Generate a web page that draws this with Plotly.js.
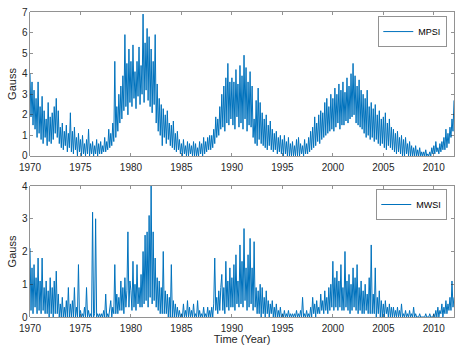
<!DOCTYPE html>
<html>
<head>
<meta charset="utf-8">
<script src="https://cdn.plot.ly/plotly-3.0.1.min.js"></script>
<style>
  html, body { margin: 0; padding: 0; background: #fff; }
  #chart { width: 463px; height: 348px; }
</style>
</head>
<body>
<div id="chart"></div>
<script>
// sampling: one value every 0.1 year starting 1970.0
const startYear = 1970;
const stepYear = 0.1;

// MPSI (Gauss), one row per year
const mpsi = [
  4.0,1.9,3.6,1.5,3.2,1.3,2.8,0.9,3.6,1.1,
  2.4,0.8,2.9,0.6,2.2,0.9,1.8,0.5,2.6,0.7,
  1.9,0.6,2.1,0.8,2.4,1.1,2.8,0.9,2.2,0.6,
  1.4,0.4,1.6,0.3,1.2,0.5,1.5,0.2,1.1,0.4,
  2.1,0.2,1.2,0.1,1.4,0.3,0.9,0.0,1.1,0.2,
  0.8,0.0,1.0,0.1,0.6,0.0,0.8,0.1,1.3,0.0,
  0.6,0.1,0.7,0.0,0.5,0.1,0.8,0.0,0.6,0.1,
  0.7,0.1,0.5,0.2,0.9,0.2,0.7,0.3,1.3,0.4,
  1.1,0.5,1.6,0.7,4.6,0.9,2.4,1.2,3.0,1.6,
  3.4,1.8,3.9,2.2,5.9,2.4,4.5,2.0,5.2,2.6,
  4.6,2.4,5.4,2.8,4.1,2.3,4.6,2.9,5.3,2.5,
  4.4,3.0,6.9,2.6,5.5,3.2,6.2,2.7,5.8,2.4,
  5.2,2.1,4.6,2.5,5.9,1.6,3.5,1.2,2.8,1.0,
  2.5,0.5,2.3,0.9,2.0,0.6,2.2,0.8,1.6,0.5,
  1.5,0.4,1.7,0.3,1.1,0.2,1.2,0.3,0.8,0.1,
  0.6,0.0,0.8,0.1,0.5,0.0,0.7,0.0,0.6,0.1,
  0.5,0.0,0.7,0.0,0.6,0.0,0.4,0.0,0.7,0.1,
  0.6,0.0,0.9,0.1,0.7,0.2,0.9,0.3,1.0,0.3,
  1.0,0.4,1.3,0.6,1.9,0.9,1.8,1.0,2.4,1.3,
  3.0,1.4,3.4,1.2,3.8,1.6,4.5,1.5,3.6,1.8,
  3.8,1.5,3.6,1.3,4.2,1.9,3.5,1.4,4.4,1.6,
  3.9,1.3,4.9,1.8,4.3,1.2,3.6,1.5,4.1,1.4,
  3.4,0.9,1.8,0.6,2.7,0.5,3.3,0.8,2.6,0.6,
  2.1,0.5,1.8,0.4,2.0,0.3,1.5,0.5,1.7,0.3,
  1.3,0.2,1.1,0.3,1.2,0.1,0.9,0.2,1.0,0.1,
  0.8,0.0,1.0,0.1,0.7,0.0,0.9,0.0,0.6,0.0,
  0.7,0.0,0.5,0.0,0.8,0.0,0.9,0.0,0.6,0.1,
  0.5,0.0,0.8,0.1,0.6,0.1,0.9,0.2,1.2,0.3,
  1.4,0.4,1.9,0.5,1.6,0.7,2.0,0.6,2.2,0.8,
  2.1,0.9,2.6,1.0,2.8,1.1,2.4,1.2,3.0,1.3,
  2.8,1.2,3.3,1.4,3.0,1.6,3.5,1.3,3.2,1.5,
  3.6,1.5,3.1,1.7,3.8,1.6,3.4,1.8,4.0,1.9,
  4.5,2.0,3.9,1.6,3.4,1.5,3.7,1.4,3.2,1.3,
  3.0,1.1,2.8,0.9,3.2,1.0,2.4,0.8,2.6,0.9,
  2.3,0.7,2.5,0.8,2.0,0.6,2.2,0.5,1.8,0.6,
  1.9,0.4,2.1,0.3,1.6,0.5,1.8,0.4,1.4,0.3,
  1.3,0.2,1.1,0.1,1.2,0.2,0.9,0.1,1.0,0.0,
  0.8,0.0,0.9,0.1,0.6,0.0,0.7,0.0,0.5,0.0,
  0.4,0.0,0.5,0.0,0.3,0.0,0.4,0.0,0.2,0.0,
  0.2,0.0,0.3,0.0,0.1,0.0,0.2,0.0,0.4,0.1,
  0.5,0.1,0.7,0.2,0.4,0.1,0.6,0.2,0.7,0.3,
  0.9,0.3,1.3,0.4,1.1,0.6,1.4,0.9,1.8,1.2,
  2.7
];

// MWSI (Gauss), one row per year
const mwsi = [
  2.1,0.2,1.5,0.1,1.6,0.3,1.2,0.1,1.8,0.2,
  1.1,0.1,1.8,0.2,0.9,0.1,1.1,0.1,0.8,0.0,
  1.2,0.1,0.9,0.0,1.1,0.1,1.4,0.1,0.7,0.0,
  0.4,0.0,0.6,0.0,0.3,0.0,0.5,0.0,0.9,0.0,
  0.4,0.0,0.5,0.0,0.9,0.0,0.3,0.0,1.6,0.0,
  0.2,0.0,0.1,0.0,0.3,0.0,0.9,0.0,0.2,0.0,
  0.1,0.0,3.2,0.0,0.1,3.0,0.0,0.1,0.0,0.1,
  0.0,0.1,0.0,0.2,0.0,0.7,0.0,0.1,0.0,0.3,
  0.5,0.0,0.3,0.1,1.6,0.1,0.7,0.1,0.6,0.2,
  1.1,0.2,0.9,0.1,1.2,0.3,0.8,2.6,0.3,1.1,
  0.8,0.2,1.7,0.3,1.0,0.2,1.6,0.4,0.9,0.3,
  1.3,0.3,2.0,0.4,2.5,0.5,2.6,0.3,3.1,0.6,
  4.0,0.4,2.6,0.5,1.8,0.3,1.2,0.2,1.1,0.1,
  0.9,0.1,2.0,0.1,0.8,0.1,0.7,0.0,0.6,0.0,
  1.6,0.0,0.5,0.0,0.4,0.0,0.3,0.0,0.2,0.0,
  0.1,0.0,0.4,0.0,0.2,0.0,0.5,0.0,0.3,0.0,
  0.2,0.0,0.4,0.0,0.1,0.0,0.5,0.0,0.2,0.0,
  0.1,0.0,0.3,0.0,0.1,0.0,0.3,0.0,0.2,0.0,
  0.3,0.0,0.4,1.8,0.2,0.6,0.1,0.8,0.2,0.9,
  1.3,0.2,0.9,0.1,1.7,0.3,1.1,0.2,1.5,0.3,
  1.2,0.3,1.6,0.2,1.9,0.4,1.1,0.3,2.2,0.4,
  1.7,0.3,2.7,0.5,1.5,0.2,1.9,0.3,2.4,0.4,
  1.5,0.2,2.3,0.3,0.9,0.1,0.8,0.1,1.0,0.0,
  0.9,0.1,0.6,0.0,0.8,0.1,0.5,0.0,0.4,0.1,
  0.5,0.0,0.3,0.0,0.4,0.0,0.2,0.0,0.3,0.0,
  0.1,0.0,0.2,0.0,0.1,0.0,0.2,0.0,0.1,0.0,
  0.1,0.0,0.1,0.0,0.2,0.0,0.1,0.0,0.2,0.0,
  0.6,0.0,0.1,0.0,0.2,0.0,0.1,0.0,0.3,0.0,
  0.6,0.1,0.4,0.0,0.5,0.1,0.3,0.1,0.7,0.2,
  0.5,0.1,0.8,0.2,0.6,0.1,0.9,0.2,1.0,0.3,
  1.7,0.2,1.2,0.3,1.4,0.2,1.1,0.3,1.6,0.2,
  0.9,0.2,2.0,0.3,1.1,0.2,1.3,0.1,1.0,0.2,
  1.5,0.3,1.2,0.2,1.6,0.1,0.9,0.2,1.1,0.1,
  0.8,0.1,1.0,0.2,0.7,0.1,1.2,0.1,2.2,0.1,
  0.7,0.1,1.5,0.0,0.6,0.1,0.8,0.0,0.5,0.0,
  0.4,0.0,0.5,0.1,0.3,0.0,0.4,0.0,0.3,0.0,
  0.3,0.0,0.2,0.0,0.3,0.0,0.2,0.0,0.4,0.0,
  0.1,0.0,0.2,0.0,0.1,0.0,0.2,0.0,0.1,0.0,
  0.3,0.0,0.1,0.0,0.0,0.0,0.1,0.0,0.0,0.0,
  0.0,0.0,0.1,0.0,0.0,0.0,0.1,0.0,0.0,0.0,
  0.1,0.0,0.2,0.0,0.3,0.0,0.2,0.1,0.4,0.0,
  0.3,0.1,0.5,0.1,0.4,0.2,0.6,0.2,1.1,0.3,
  0.6
];

const yearTicks = [1970, 1975, 1980, 1985, 1990, 1995, 2000, 2005, 2010];

// time axis for each series
const years = mpsi.map((v, i) => +(startYear + i * stepYear).toFixed(2));

const lineColor = '#0072BD';
const axisColor = '#262626';
const font = { family: 'Liberation Sans, Arial, sans-serif', size: 10, color: axisColor };

const mpsiTrace = {
    x: years, y: mpsi,
    type: 'scatter', mode: 'lines',
    line: { color: lineColor, width: 1 },
    name: 'MPSI',
    xaxis: 'x', yaxis: 'y',
    legend: 'legend'
};
const mwsiTrace = {
    x: years, y: mwsi,
    type: 'scatter', mode: 'lines',
    line: { color: lineColor, width: 1 },
    name: 'MWSI',
    xaxis: 'x2', yaxis: 'y2',
    legend: 'legend2'
};

// shared axis styling (MATLAB-like box with inward ticks)
function axisStyle(extra) {
    return Object.assign({
        showline: true, mirror: 'ticks', linecolor: axisColor, linewidth: 0.5,
        ticks: 'inside', ticklen: 3, tickcolor: axisColor, tickwidth: 0.5,
        showgrid: false, zeroline: false, tickfont: font
    }, extra);
}

const legendStyle = {
    xanchor: 'right', yanchor: 'top',
    bgcolor: '#ffffff', bordercolor: axisColor, borderwidth: 0.5,
    font: { family: font.family, size: 9, color: '#000' },
    itemwidth: 30, tracegroupgap: 0
};

const titleFont = { family: font.family, size: 11, color: axisColor };

const layout = {
    width: 463, height: 348,
    margin: { l: 30, r: 9, t: 12, b: 31 },
    paper_bgcolor: '#fff', plot_bgcolor: '#fff',
    font: font,
    showlegend: true,
    xaxis: axisStyle({ domain: [0, 1], range: [1970, 2012], tickvals: yearTicks, anchor: 'y',
        ticklabelstandoff: 3 }),
    yaxis: axisStyle({ domain: [0.528, 1], range: [0, 7], dtick: 1,
        title: { text: 'Gauss', font: titleFont, standoff: 2 } }),
    xaxis2: axisStyle({ domain: [0, 1], range: [1970, 2012], tickvals: yearTicks, anchor: 'y2',
        ticklabelstandoff: 2,
        title: { text: 'Time (Year)', font: titleFont, standoff: 0 } }),
    yaxis2: axisStyle({ domain: [0, 0.4295], range: [0, 4], dtick: 1, anchor: 'x2',
        title: { text: 'Gauss', font: titleFont, standoff: 2 } }),
    legend: Object.assign({ x: 0.983, y: 0.985 }, legendStyle),
    legend2: Object.assign({ x: 0.983, y: 0.418 }, legendStyle)
};

Plotly.newPlot('chart', [mpsiTrace, mwsiTrace], layout, { displayModeBar: false, staticPlot: true });
</script>
</body>
</html>
